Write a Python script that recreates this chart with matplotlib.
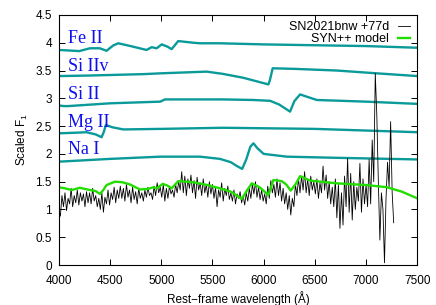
import matplotlib
matplotlib.use("Agg")

import matplotlib.pyplot as plt
import numpy as np

plt.rcParams["font.family"] = ["Liberation Sans", "DejaVu Sans"]

# observed spectrum, sampled every 15 A from 4000 A
obs_wave = np.arange(4000, 7275, 15)
obs_flux = [
    1.00, 0.88, 1.25, 1.05, 1.30, 0.98, 1.20, 1.10, 1.38, 1.05, 1.25, 1.12, 1.35, 1.08, 1.30, 1.15, 1.28, 1.05, 1.32, 1.12,
    1.30, 1.10, 1.38, 1.15, 1.25, 1.05, 1.20, 1.00, 1.30, 0.95, 1.22, 1.10, 1.35, 1.08, 1.30, 1.18, 1.40, 1.12, 1.35, 1.20,
    1.42, 1.20, 1.38, 1.15, 1.45, 1.22, 1.35, 1.12, 1.40, 1.18, 1.32, 1.10, 1.38, 1.20, 1.30, 1.15, 1.35, 1.22, 1.40, 1.25,
    1.30, 1.18, 1.42, 1.25, 1.48, 1.30, 1.40, 1.22, 1.45, 1.15, 1.38, 1.20, 1.42, 1.28, 1.35, 1.22, 1.45, 1.30, 1.50, 1.35,
    1.68, 1.30, 1.60, 1.25, 1.55, 1.38, 1.62, 1.30, 1.52, 1.20, 1.58, 1.35, 1.48, 1.25, 1.55, 1.30, 1.45, 1.22, 1.50, 1.28,
    1.45, 1.20, 1.40, 1.05, 1.35, 1.22, 1.48, 1.15, 1.38, 1.25, 1.42, 1.18, 1.30, 1.15, 1.35, 1.10, 1.28, 1.20, 1.32, 1.12,
    1.25, 1.08, 1.30, 1.15, 1.38, 1.20, 1.45, 1.28, 1.50, 1.22, 1.40, 1.18, 1.35, 1.15, 1.28, 1.10, 1.42, 1.20, 1.52, 1.30,
    1.45, 1.22, 1.55, 1.25, 1.48, 1.15, 1.38, 1.10, 1.30, 1.00, 1.25, 0.90, 1.20, 1.05, 1.45, 1.25, 1.55, 1.30, 1.60, 1.35,
    1.68, 1.30, 1.55, 1.25, 1.60, 1.35, 1.50, 1.28, 1.55, 1.20, 1.48, 1.30, 1.78, 1.35, 1.62, 1.20, 1.50, 1.10, 1.40, 1.05,
    1.55, 0.85, 1.45, 0.66, 1.30, 0.72, 1.60, 1.05, 1.92, 0.95, 1.65, 0.81, 1.50, 1.00, 1.40, 1.15, 1.83, 0.95, 1.55, 1.10,
    1.45, 1.05, 1.90, 1.10, 2.25, 1.50, 3.45, 2.70, 1.50, 0.45, 1.30, 1.00, 0.04, 1.20, 1.85, 1.40, 2.58, 1.30, 0.76,
]

# SYN++ full model
syn_wave = [4000, 4060, 4124, 4205, 4303, 4360, 4401, 4430, 4466, 4548, 4620, 4695, 4792, 4873,
            4922, 4955, 5014, 5060, 5101, 5166, 5240, 5313, 5450, 5574, 5680, 5786, 5840, 5884,
            5960, 6046, 6095, 6176, 6220, 6264, 6310, 6356, 6453, 6714, 7000, 7203, 7350, 7500]
syn_flux = [1.40, 1.38, 1.35, 1.39, 1.35, 1.33, 1.28, 1.34, 1.44, 1.50, 1.49, 1.45, 1.36, 1.37,
            1.40, 1.38, 1.46, 1.43, 1.38, 1.51, 1.50, 1.49, 1.44, 1.38, 1.32, 1.19, 1.35, 1.47,
            1.40, 1.26, 1.53, 1.51, 1.45, 1.34, 1.45, 1.60, 1.52, 1.47, 1.44, 1.40, 1.32, 1.20]

# single-ion components (already offset)
fe_wave = [4000, 4100, 4200, 4303, 4400, 4466, 4530, 4580, 4700, 4857, 4906, 4955, 5004, 5060,
           5101, 5166, 5313, 5378, 5574, 6000, 7000, 7500]
fe_flux = [3.87, 3.86, 3.85, 3.90, 3.90, 3.855, 3.95, 3.99, 3.94, 3.87, 3.92, 3.90, 3.97, 3.93,
           3.885, 4.03, 4.00, 3.99, 3.99, 3.97, 3.94, 3.91]
si2v_wave = [4000, 4300, 4824, 5000, 5443, 5600, 5800, 6046, 6060, 6088, 6300, 6714, 7100, 7500]
si2v_flux = [3.40, 3.41, 3.435, 3.45, 3.48, 3.44, 3.37, 3.25, 3.32, 3.54, 3.53, 3.50, 3.45, 3.40]
si2_wave = [4000, 4050, 4091, 4500, 4990, 5036, 5600, 5900, 6063, 6150, 6258, 6300, 6356, 6420,
            6519, 7000, 7500]
si2_flux = [2.87, 2.86, 2.86, 2.91, 2.94, 2.98, 2.98, 2.97, 2.955, 2.89, 2.76, 2.95, 3.07, 3.03,
            2.97, 2.94, 2.90]
mg2_wave = [4000, 4150, 4270, 4360, 4417, 4440, 4459, 4520, 4629, 5000, 5600, 6500, 7500]
mg2_flux = [2.37, 2.38, 2.39, 2.35, 2.30, 2.40, 2.52, 2.48, 2.44, 2.45, 2.47, 2.45, 2.39]
na1_wave = [4000, 4500, 4990, 5378, 5574, 5680, 5740, 5790, 5830, 5870, 5900, 5940, 6000, 6226,
            6700, 7500]
na1_flux = [1.86, 1.91, 1.95, 1.95, 1.91, 1.85, 1.78, 1.73, 1.90, 2.13, 2.19, 2.10, 2.00, 1.95,
            1.93, 1.90]

ion_labels = ["Fe II", "Si IIv", "Si II", "Mg II", "Na I"]
label_y = [3.99, 3.49, 2.99, 2.49, 1.99]

teal = "#0a9a9a"

fig = plt.figure(figsize=(4.36, 3.05), dpi=100)
ax = fig.add_axes([0.135, 0.131, 0.822, 0.82])

for w, f in [(fe_wave, fe_flux), (si2v_wave, si2v_flux), (si2_wave, si2_flux),
             (mg2_wave, mg2_flux), (na1_wave, na1_flux)]:
    ax.plot(w, f, color=teal, lw=1.7)

ax.plot(obs_wave, obs_flux, color="black", lw=0.6, label="SN2021bnw +77d")
ax.plot(syn_wave, syn_flux, color="#22dd00", lw=1.7, label="SYN++ model")

for lab, y in zip(ion_labels, label_y):
    ax.text(4090, y, lab, color="#1010ee", fontsize=13, family="Liberation Serif",
            va="baseline", ha="left")

ax.set_xlim(4000, 7500)
ax.set_ylim(0, 4.5)
ax.set_xticks(np.arange(4000, 7501, 500))
ax.set_yticks(np.arange(0, 4.51, 0.5))
ax.set_yticklabels(["0", "0.5", "1", "1.5", "2", "2.5", "3", "3.5", "4", "4.5"])
ax.tick_params(direction="in", top=True, right=True, labelsize=8.5, length=4, width=0.7)
ax.tick_params(axis="x", pad=7)
ax.tick_params(axis="y", pad=5)
ax.set_xlabel("Rest\u2212frame wavelength (\u00c5)", fontsize=8.5, labelpad=3)
ax.set_ylabel(r"Scaled F$_\mathregular{1}$", fontsize=8.5, labelpad=4)
for s in ax.spines.values():
    s.set_linewidth(0.8)

leg = ax.legend(loc="upper right", frameon=False, markerfirst=False, fontsize=9,
                handlelength=1.0, handletextpad=0.7, labelspacing=0.0,
                borderaxespad=0.0, bbox_to_anchor=(0.995, 0.995))

fig.savefig("out.png", dpi=100)
